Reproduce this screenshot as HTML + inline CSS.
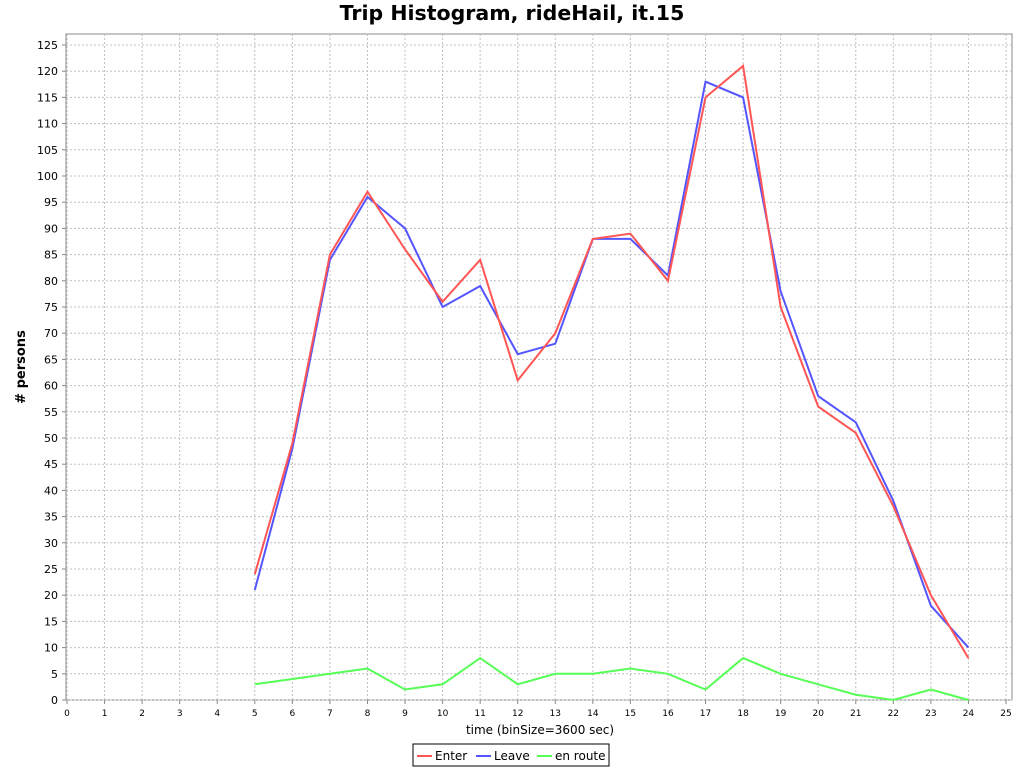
<!DOCTYPE html>
<html><head><meta charset="utf-8">
<style>
body{margin:0;background:#fff;font-family:"DejaVu Sans",sans-serif;}
svg text{font-family:"DejaVu Sans","Liberation Sans",sans-serif;}
</style></head>
<body>
<svg id="chart" width="1024" height="768" xmlns="http://www.w3.org/2000/svg">
<rect width="1024" height="768" fill="#fff"/>
<text x="512" y="20" text-anchor="middle" font-size="20.5" font-weight="bold">Trip Histogram, rideHail, it.15</text>
<rect x="66" y="34" width="946" height="666" fill="#fff" stroke="#888"/>
<g id="grid"></g>
<g id="ticks"></g>
<g id="series"></g>
<text x="540" y="734" text-anchor="middle" font-size="12">time (binSize=3600 sec)</text>
<text transform="translate(25,367) rotate(-90)" text-anchor="middle" font-size="13" font-weight="bold">#  persons</text>
<g>
<rect x="413" y="744" width="196" height="22" fill="#fff" stroke="#000"/>
<g><line x1="417" y1="756" x2="432" y2="756" stroke="#ff5555" stroke-width="2"/><text x="435" y="760" font-size="12">Enter</text></g>
<g><line x1="476" y1="756" x2="491" y2="756" stroke="#5555ff" stroke-width="2"/><text x="494" y="760" font-size="12">Leave</text></g>
<g><line x1="537" y1="756" x2="552" y2="756" stroke="#55ff55" stroke-width="2"/><text x="555" y="760" font-size="12">en route</text></g>
</g>
</svg>
<script>
const hours=[5,6,7,8,9,10,11,12,13,14,15,16,17,18,19,20,21,22,23,24];
const enterVals=[24,49,85,97,86,76,84,61,70,88,89,80,115,121,75,56,51,37,20,8];
const leaveVals=[21,48,84,96,90,75,79,66,68,88,88,81,118,115,78,58,53,38,18,10];
const enRouteVals=[3,4,5,6,2,3,8,3,5,5,6,5,2,8,5,3,1,0,2,0];
const xTicks=[0,1,2,3,4,5,6,7,8,9,10,11,12,13,14,15,16,17,18,19,20,21,22,23,24,25];
const yTicks=[0,5,10,15,20,25,30,35,40,45,50,55,60,65,70,75,80,85,90,95,100,105,110,115,120,125];
const NS="http://www.w3.org/2000/svg";
const x=v=>67+v*37.56;
const y=v=>700-v*5.24;
function mk(tag,attrs,parent){const e=document.createElementNS(NS,tag);for(const k in attrs)e.setAttribute(k,attrs[k]);parent.appendChild(e);return e;}
const grid=document.getElementById('grid'),ticks=document.getElementById('ticks'),series=document.getElementById('series');
xTicks.forEach(t=>{
 const g=mk('line',{x1:x(t),x2:x(t),y1:34,y2:700,stroke:'#c0c0c0','stroke-dasharray':'2,2'},grid);
 
 
 mk('line',{x1:x(t),x2:x(t),y1:700,y2:704,stroke:'#888'},ticks);
 const l=mk('text',{x:x(t),y:716,'text-anchor':'middle','font-size':'9'},ticks);
 l.textContent=t;
 
 
});
yTicks.forEach(t=>{
 const g=mk('line',{x1:66,x2:1012,y1:y(t),y2:y(t),stroke:'#c0c0c0','stroke-dasharray':'2,2'},grid);
 
 
 mk('line',{x1:62,x2:66,y1:y(t),y2:y(t),stroke:'#888'},ticks);
 const l=mk('text',{x:58,y:y(t)+4,'text-anchor':'end','font-size':'11'},ticks);
 l.textContent=t;
 
 
});
function line(vals,color,name){
 const p=mk('polyline',{points:hours.map((h,i)=>x(h)+','+y(vals[i])).join(' '),fill:'none',stroke:color,'stroke-width':2},series);
 
 
}
line(enRouteVals,'#55ff55','en-route-line');
line(leaveVals,'#5555ff','leave-line');
line(enterVals,'#ff5555','enter-line');
</script>
</body></html>
